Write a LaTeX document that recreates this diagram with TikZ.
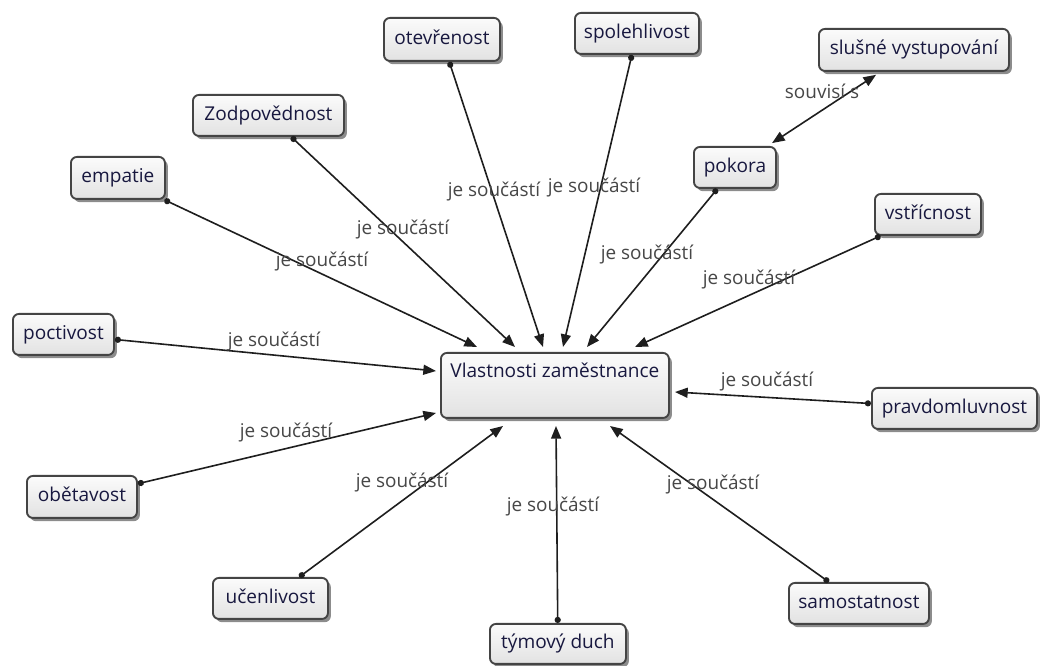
\documentclass[tikz,border=0pt]{standalone}
\usepackage{fontspec}
\setmainfont{Open Sans}
\usetikzlibrary{arrows.meta,shadows}

\definecolor{boxborder}{HTML}{444444}
\definecolor{boxtop}{HTML}{FBFBFB}
\definecolor{boxbottom}{HTML}{E2E2E2}
\definecolor{conceptink}{HTML}{18183F}
\definecolor{linkink}{HTML}{474747}
\definecolor{lineink}{HTML}{1E1E1E}

\begin{document}
\begin{tikzpicture}[x=0.75pt,y=-0.75pt,
  concept/.style={draw=boxborder, line width=1.4pt, rounded corners=4.5pt,
    top color=boxtop, bottom color=boxbottom,
    drop shadow={shadow xshift=2.2pt, shadow yshift=-2.4pt, fill=black, opacity=0.45},
    font=\fontsize{14.3}{17}\selectfont, text=conceptink,
    inner sep=0pt, text height=10.5pt, text depth=3pt, anchor=north west},
  linklabel/.style={font=\fontsize{14.2}{17}\selectfont, text=linkink,
    inner sep=0pt, anchor=base},
  link/.style={draw=lineink, line width=1.2pt,
    {Circle[length=4.6pt]}-{Triangle[length=9.5pt,width=7.5pt]}},
  relation/.style={draw=lineink, line width=1.2pt,
    {Triangle[length=9.5pt,width=7.5pt]}-{Triangle[length=9.5pt,width=7.5pt]},
    shorten <=4pt, shorten >=4pt}
]
\fill[white] (0,0) rectangle (1040,666);
\useasboundingbox (0,0) rectangle (1040,666);

% concepts
\node[concept, minimum width=228*0.75pt, minimum height=65*0.75pt, text depth=21.75pt]
  (main) at (440,352) {Vlastnosti zaměstnance};
\node[concept, minimum width=116*0.75pt, minimum height=43*0.75pt] (otev) at (383,17) {otevřenost};
\node[concept, minimum width=124*0.75pt, minimum height=41*0.75pt] (spol) at (574,12) {spolehlivost};
\node[concept, minimum width=190*0.75pt, minimum height=42*0.75pt] (slus) at (818,28) {slušné vystupování};
\node[concept, minimum width=82*0.75pt, minimum height=41*0.75pt] (pokora) at (693,146) {pokora};
\node[concept, minimum width=106*0.75pt, minimum height=41*0.75pt] (vstr) at (874,193) {vstřícnost};
\node[concept, minimum width=151*0.75pt, minimum height=41*0.75pt] (zodp) at (192,94) {Zodpovědnost};
\node[concept, minimum width=94*0.75pt, minimum height=42*0.75pt] (emp) at (70,156) {empatie};
\node[concept, minimum width=101*0.75pt, minimum height=41*0.75pt] (poct) at (12,313) {poctivost};
\node[concept, minimum width=165*0.75pt, minimum height=41*0.75pt] (pravd) at (871,387) {pravdomluvnost};
\node[concept, minimum width=110*0.75pt, minimum height=42*0.75pt] (obet) at (26,475) {obětavost};
\node[concept, minimum width=115*0.75pt, minimum height=41*0.75pt] (ucen) at (212,577) {učenlivost};
\node[concept, minimum width=136*0.75pt, minimum height=40*0.75pt] (tym) at (489,623) {týmový duch};
\node[concept, minimum width=140*0.75pt, minimum height=41*0.75pt] (samo) at (788,582) {samostatnost};

% arrow tips around the central concept
\coordinate (t-poct) at (436,371);
\coordinate (t-obet) at (436,413);
\coordinate (t-emp) at (477,347);
\coordinate (t-zodp) at (515,347);
\coordinate (t-otev) at (543,347);
\coordinate (t-spol) at (563,347);
\coordinate (t-pok) at (587,347);
\coordinate (t-vstr) at (635,347);
\coordinate (t-pravd) at (675,392);
\coordinate (t-samo) at (610,426);
\coordinate (t-tym) at (556,426);
\coordinate (t-ucen) at (503,426);

% links
\draw[link] (poct) -- (t-poct);
\draw[link] (obet) -- (t-obet);
\draw[link] (emp) -- (t-emp);
\draw[link] (zodp) -- (t-zodp);
\draw[link] (otev) -- (t-otev);
\draw[link] (spol) -- (t-spol);
\draw[link] (pokora) -- (t-pok);
\draw[link] (vstr) -- (t-vstr);
\draw[link] (pravd) -- (t-pravd);
\draw[link] (samo) -- (t-samo);
\draw[link] (tym) -- (t-tym);
\draw[link] (ucen) -- (t-ucen);
\draw[relation] (pokora) -- (slus);

% link labels
\node[linklabel] (l-poct) at (274,347) {je součástí};
\node[linklabel] (l-emp) at (322,267) {je součástí};
\node[linklabel] (l-zodp) at (403,235) {je součástí};
\node[linklabel] (l-otev) at (494,197) {je součástí};
\node[linklabel] (l-spol) at (594,193) {je součástí};
\node[linklabel] (l-pok) at (647,260) {je součástí};
\node[linklabel] (l-vstr) at (749,285) {je součástí};
\node[linklabel] (l-pravd) at (767,387) {je součástí};
\node[linklabel] (l-samo) at (713,490) {je součástí};
\node[linklabel] (l-tym) at (553,512) {je součástí};
\node[linklabel] (l-ucen) at (402,488) {je součástí};
\node[linklabel] (l-obet) at (286,438) {je součástí};
\node[linklabel] (l-souv) at (822,99) {souvisí s};
\end{tikzpicture}
\end{document}
